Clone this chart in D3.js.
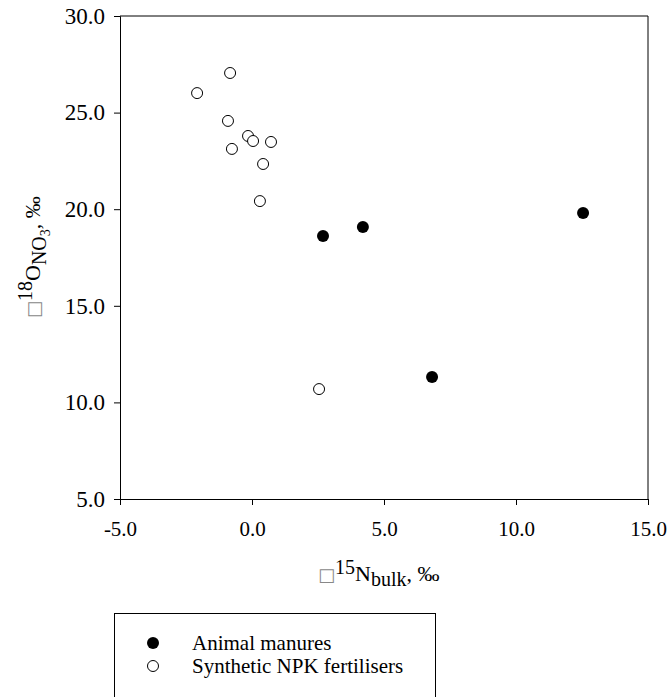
<!DOCTYPE html>
<html>
<head>
<meta charset="utf-8">
<script src="https://cdn.jsdelivr.net/npm/d3@7"></script>
<style>
  html, body { margin: 0; padding: 0; background: #fff; }
  svg { display: block; }
  svg text { font-family: "Liberation Serif", "Times New Roman", Times, serif; }
</style>
</head>
<body>
<svg id="chart" width="671" height="697"></svg>
<script>
// Animal manures (filled)
const manureX = [2.69, 4.20, 12.54, 6.82];
const manureY = [18.61, 19.08, 19.80, 11.31];
// Synthetic NPK fertilisers (open)
const npkX = [-0.83, -2.08, -0.91, -0.15, 0.04, 0.72, -0.76, 0.42, 0.30, 2.54];
const npkY = [27.05, 26.01, 24.57, 23.79, 23.53, 23.48, 23.12, 22.34, 20.42, 10.69];
const xTicks = [-5, 0, 5, 10, 15];
const yTicks = [5, 10, 15, 20, 25, 30];
const seriesNames = ["Animal manures", "Synthetic NPK fertilisers"];

const svg = d3.select("#chart");
const mLeft = 120, mRight = 648, mTop = 16, mBottom = 499;
const x = d3.scaleLinear().domain([-5, 15]).range([mLeft, mRight]);
const y = d3.scaleLinear().domain([5, 30]).range([mBottom, mTop]);

// frame (top and right)
svg.append("path")
  .attr("d", `M${mLeft},${mTop}H${mRight}V${mBottom}`)
  .attr("fill", "none").attr("stroke", "#000").attr("stroke-width", 1);

const fmt = d => d3.format(".1f")(d).replace("−", "-");
const xAxis = svg.append("g").attr("transform", `translate(0,${mBottom})`)
  .call(d3.axisBottom(x).tickValues(xTicks).tickFormat(fmt).tickSizeOuter(0).tickSize(6).tickPadding(16));
const yAxis = svg.append("g").attr("transform", `translate(${mLeft},0)`)
  .call(d3.axisLeft(y).tickValues(yTicks).tickFormat(fmt).tickSizeOuter(0).tickSize(6).tickPadding(9));
xAxis.attr("font-family", null).attr("font-size", 21);
yAxis.attr("font-family", null).attr("font-size", 23);
[xAxis, yAxis].forEach(g => {
  g.selectAll("text").attr("fill", "#000");
  g.select(".domain").attr("stroke", "#000");
  g.selectAll(".tick line").attr("stroke", "#000");
});

// points
const manure = manureX.map((v, i) => ({x: v, y: manureY[i]}));
const npk = npkX.map((v, i) => ({x: v, y: npkY[i]}));
svg.append("g").selectAll("circle").data(npk).join("circle")
  .attr("cx", d => x(d.x)).attr("cy", d => y(d.y)).attr("r", 5.5)
  .attr("fill", "#fff").attr("stroke", "#000").attr("stroke-width", 1);
svg.append("g").selectAll("circle").data(manure).join("circle")
  .attr("cx", d => x(d.x)).attr("cy", d => y(d.y)).attr("r", 6)
  .attr("fill", "#000");

// x title
const xt = svg.append("text").attr("x", 318).attr("y", 581).attr("font-size", 22).attr("fill", "#000");
xt.append("tspan").style("font-family", "DejaVu Sans").attr("fill", "#888").attr("font-size", 18).text("□");
xt.append("tspan").attr("dy", -7).attr("font-size", 20).text("15");
xt.append("tspan").attr("dy", 7).text("N");
xt.append("tspan").attr("dy", 5).attr("font-size", 20).text("bulk");
xt.append("tspan").attr("dy", -5).text(", ‰");

// y title
const yt = svg.append("text").attr("transform", "translate(40,318) rotate(-90)").attr("font-size", 22).attr("fill", "#000");
yt.append("tspan").style("font-family", "DejaVu Sans").attr("fill", "#888").attr("font-size", 18).text("□");
yt.append("tspan").attr("dy", -8).attr("font-size", 20).text("18");
yt.append("tspan").attr("dy", 8).text("O");
yt.append("tspan").attr("dy", 6).attr("font-size", 20).text("NO");
yt.append("tspan").attr("dy", 4).attr("font-size", 14).text("3");
yt.append("tspan").attr("dy", -10).text(", ‰");

// legend
const lg = svg.append("g");
lg.append("rect").attr("x", 114.5).attr("y", 613.5).attr("width", 321).attr("height", 100)
  .attr("fill", "#fff").attr("stroke", "#000").attr("stroke-width", 1);
const rows = [0, 1];
lg.selectAll("circle").data(rows).join("circle")
  .attr("cx", 153).attr("cy", d => 643 + d * 23).attr("r", d => d === 0 ? 6 : 5.5)
  .attr("fill", d => d === 0 ? "#000" : "#fff").attr("stroke", "#000").attr("stroke-width", d => d === 0 ? 0 : 1);
lg.selectAll("text").data(rows).join("text")
  .attr("x", 192).attr("y", d => 650 + d * 23).attr("font-size", 21).attr("fill", "#000")
  .text(d => seriesNames[d]);
</script>
</body>
</html>
